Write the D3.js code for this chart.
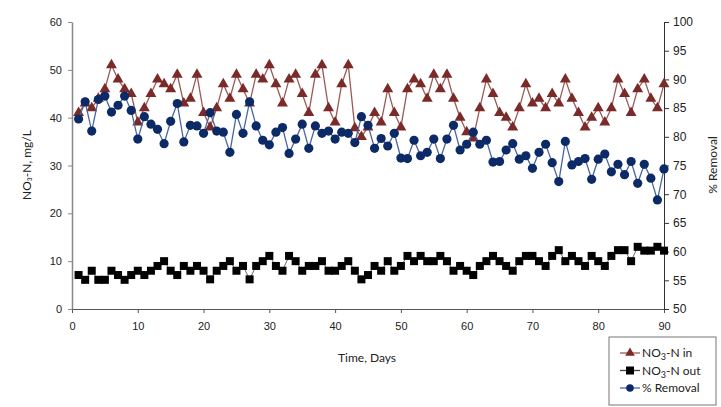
<!DOCTYPE html>
<html>
<head>
<meta charset="utf-8">
<script src="https://cdn.jsdelivr.net/npm/d3@7"></script>
<style>
  body { margin: 0; background: #fff; }
  svg { display: block; font-family: Lato, "Open Sans", sans-serif; }
  .tick text { font-size: 11px; fill: #222; }
</style>
</head>
<body>
<svg id="chart" width="721" height="407"></svg>
<script>
// days 1..90
const days = d3.range(1, 91);

// NO3-N in, mg/L (left axis)
const no3In = [41, 43, 42, 44, 46, 51, 48, 46, 45, 39,
  42, 45, 48, 47, 46, 49, 43, 44, 49, 41,
  38, 42, 47, 44, 49, 46, 43, 49, 48, 51,
  47, 43, 48, 49, 45, 41, 49, 51, 42, 39,
  47, 51, 37.8, 36, 38, 41, 39, 46, 41, 38,
  46, 48, 47, 44, 49, 46, 49, 44, 40, 37,
  35.7, 42, 48, 45, 41, 40, 38, 42, 47, 43,
  44, 42, 45, 43, 48, 44, 41, 38, 40, 42,
  39, 42, 48, 45, 41, 46, 48, 44, 42, 47];

// NO3-N out, mg/L (left axis)
const no3Out = [7.1, 6.1, 8, 6.1, 6.1, 8, 7.1, 6.1, 7.1, 8,
  7.1, 8, 9, 10, 8, 7.1, 9, 8, 9, 8,
  6.2, 8, 9, 10, 8, 9, 6.2, 9, 10, 11.1,
  9, 8, 11.1, 10, 8, 9, 9, 10, 8, 8,
  9, 10, 8, 6.2, 7.1, 9, 8, 10, 8, 9,
  11.1, 10, 11.1, 10, 10, 11.1, 10, 8, 9, 8,
  7.1, 9, 10, 11.1, 10, 9, 8, 10, 11.1, 11.1,
  10, 9, 11.1, 12.3, 10, 11.1, 10, 9, 11.1, 10,
  9, 11.1, 12.3, 12.3, 10, 13, 12.2, 12.2, 13, 12.2];

// % Removal (right axis)
const removal = [83.1, 86.1, 81.0, 86.5, 87.1, 84.3, 85.5, 87.1, 84.6, 79.6,
  83.5, 82.2, 81.3, 78.8, 82.7, 85.8, 79.1, 82.0, 81.9, 80.6,
  84.2, 81.0, 80.8, 77.3, 83.9, 80.6, 86.1, 81.9, 79.4, 78.6,
  80.8, 81.6, 77.1, 79.6, 82.2, 78.0, 81.9, 80.6, 81.0, 79.6,
  80.8, 80.6, 79.0, 83.5, 82.0, 78.0, 79.7, 78.4, 80.6, 76.3,
  76.2, 79.4, 76.7, 77.3, 79.6, 76.2, 79.6, 82.0, 77.7, 78.7,
  80.8, 78.7, 79.4, 75.6, 75.7, 77.7, 78.8, 76.1, 76.7, 74.5,
  77.3, 78.7, 75.5, 72.2, 79.2, 75.1, 75.7, 76.2, 72.6, 76.1,
  77.0, 73.9, 75.2, 73.4, 75.7, 71.9, 75.2, 72.8, 69.0, 74.4];

const xTicks = d3.range(0, 91, 10);
const leftTicks = d3.range(0, 61, 10);
const rightTicks = d3.range(50, 101, 5);

const svg = d3.select('#chart');
const plot = { left: 72, right: 664, top: 22, bottom: 309 };

const x = d3.scaleLinear().domain([0, 90]).range([plot.left, plot.right]);
const yL = d3.scaleLinear().domain([0, 60]).range([plot.bottom, plot.top]);
const yR = d3.scaleLinear().domain([50, 100]).range([plot.bottom, plot.top]);

const red = '#7a2a28', redLine = '#9a5a56';
const navy = '#0b2a66', navyLine = '#4a66a0';

// axes
const gx = svg.append('g')
  .attr('transform', `translate(0,${plot.bottom})`)
  .call(d3.axisBottom(x).tickValues(xTicks).tickSize(4).tickSizeOuter(0).tickPadding(9));
gx.select('.domain').attr('stroke', '#555');
gx.selectAll('.tick line').attr('stroke', '#555');

const gl = svg.append('g')
  .attr('transform', `translate(${plot.left},0)`)
  .call(d3.axisLeft(yL).tickValues(leftTicks).tickSize(4).tickSizeOuter(0).tickPadding(6));
gl.select('.domain').attr('stroke', '#888').attr('stroke-width', 1.5);
gl.selectAll('.tick line').attr('stroke', '#888');

const gr = svg.append('g')
  .attr('transform', `translate(${plot.right},0)`)
  .call(d3.axisRight(yR).tickValues(rightTicks).tickSize(5).tickSizeOuter(0).tickPadding(4));
gr.select('.domain').attr('stroke', '#333');
gr.selectAll('.tick line').attr('stroke', '#333');
gr.selectAll('.tick text').style('font-size', '12px');

// series
const lineIn = d3.line().x((d, i) => x(days[i])).y(d => yL(d));
const lineOut = d3.line().x((d, i) => x(days[i])).y(d => yL(d));
const lineRem = d3.line().x((d, i) => x(days[i])).y(d => yR(d));

svg.append('path').datum(no3In).attr('d', lineIn)
  .attr('fill', 'none').attr('stroke', redLine).attr('stroke-width', 1.3);
svg.append('g').selectAll('path').data(no3In).join('path')
  .attr('d', d3.symbol(d3.symbolTriangle, 52))
  .attr('transform', (d, i) => `translate(${x(days[i])},${yL(d)})`)
  .attr('fill', red);

svg.append('path').datum(no3Out).attr('d', lineOut)
  .attr('fill', 'none').attr('stroke', '#444').attr('stroke-width', 0.8);
svg.append('g').selectAll('rect').data(no3Out).join('rect')
  .attr('x', (d, i) => x(days[i]) - 4)
  .attr('y', d => yL(d) - 4)
  .attr('width', 8).attr('height', 8)
  .attr('fill', '#000');

svg.append('path').datum(removal).attr('d', lineRem)
  .attr('fill', 'none').attr('stroke', navyLine).attr('stroke-width', 1.3);
svg.append('g').selectAll('circle').data(removal).join('circle')
  .attr('cx', (d, i) => x(days[i]))
  .attr('cy', d => yR(d))
  .attr('r', 4.6)
  .attr('fill', navy);

// axis titles
svg.append('text')
  .attr('transform', 'translate(31,165) rotate(-90)')
  .attr('text-anchor', 'middle')
  .style('font-size', '12px').attr('fill', '#222')
  .text('NO₃-N, mg/L');

svg.append('text')
  .attr('transform', 'translate(717,165) rotate(-90)')
  .attr('text-anchor', 'middle')
  .style('font-size', '12px').attr('fill', '#222')
  .text('% Removal');

svg.append('text')
  .attr('x', 367).attr('y', 362)
  .attr('text-anchor', 'middle')
  .style('font-size', '12px').attr('fill', '#222')
  .text('Time, Days');

// legend
const legendItems = [
  { label: ['NO', '3', '-N in'], kind: 'tri' },
  { label: ['NO', '3', '-N out'], kind: 'sq' },
  { label: ['% Removal'], kind: 'circ' }
];
const lg = svg.append('g').attr('transform', 'translate(609,337)');
lg.append('rect').attr('width', 107).attr('height', 68)
  .attr('fill', '#fff').attr('stroke', '#777');

const rows = lg.selectAll('g.item').data(legendItems).join('g')
  .attr('class', 'item')
  .attr('transform', (d, i) => `translate(0,${16 + i * 17.5})`);

rows.append('line').attr('x1', 11).attr('x2', 31).attr('y1', 0).attr('y2', 0)
  .attr('stroke', d => d.kind === 'tri' ? redLine : d.kind === 'sq' ? '#444' : navyLine)
  .attr('stroke-width', 1.3);

rows.filter(d => d.kind === 'tri').append('path')
  .attr('d', d3.symbol(d3.symbolTriangle, 40))
  .attr('transform', 'translate(21,0)').attr('fill', red);
rows.filter(d => d.kind === 'sq').append('rect')
  .attr('x', 17).attr('y', -4).attr('width', 8).attr('height', 8).attr('fill', '#000');
rows.filter(d => d.kind === 'circ').append('circle')
  .attr('cx', 21).attr('cy', 0).attr('r', 3.8).attr('fill', navy);

const txt = rows.append('text').attr('x', 33).attr('y', 4)
  .style('font-size', '12px').attr('fill', '#222');
txt.each(function (d) {
  const t = d3.select(this);
  if (d.label.length === 1) { t.text(d.label[0]); return; }
  t.append('tspan').text(d.label[0]);
  t.append('tspan').attr('dy', 3).style('font-size', '9px').text(d.label[1]);
  t.append('tspan').attr('dy', -3).text(d.label[2]);
});
</script>
</body>
</html>
